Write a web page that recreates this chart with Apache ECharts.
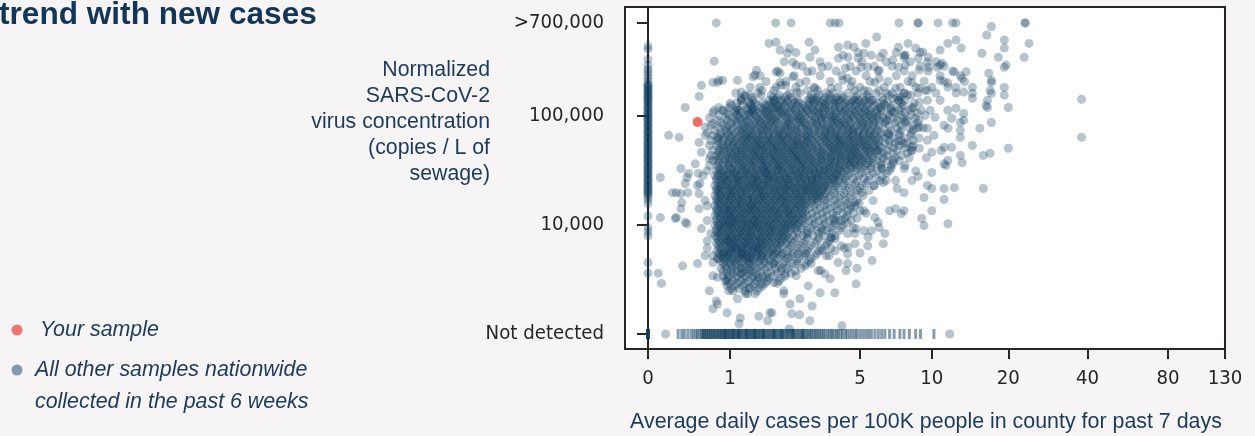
<!DOCTYPE html>
<html><head><meta charset="utf-8">
<script src="https://cdn.jsdelivr.net/npm/echarts@6/dist/echarts.min.js"></script>
<style>html,body{margin:0;padding:0;background:#f7f4f5;}#chart{width:1255px;height:436px;}</style>
</head><body><div id="chart"></div>
<script>
// ---- axis ticks ----
const xTickValues = [0, 1, 5, 10, 20, 40, 80, 130];           // avg daily cases per 100K
const yTickValuesK = [1, 10, 100, 700];                       // thousand copies / L
const yTickLabels = ['Not detected', '10,000', '100,000', '>700,000'];
const NOT_DETECTED_K = 1;   // "Not detected" row
const CAP_K = 700;          // ">700,000" row

// ---- your sample: [cases, thousand copies/L] ----
const yourSample = [0.52, 87];

// ---- samples from counties with 0 cases (thousand copies/L) ----
const zeroCaseConcentrations = [430,403,327,288,264,250,233,218,205,
 192,185,177,169,163,156,149,143,137,132,126,121,116,111,107,102,98,94,90,86,83,79,76,73,70,67,64,61.5,59,56.5,54,52,49.7,47.7,45.7,43.9,42,40.3,38.6,37,35.5,34,32.6,31.3,30,28.8,27.6,26.4,25.3,24.3,23.3,22.3,21.4,20.5,19.7,18.8,18.1,
 188,173,159,146,134,118,104,92,81,71,62.8,55.3,48.8,43,38,33.3,29.4,25.9,22.8,20.1,
 17,15.6,12,9.4,8.6,7.9,4.5,3.6];

// ---- samples above 700,000 (cases) ----
const cappedCases = [0.78,1.94,2.35,3.66,3.86,4.03,7.34,8.8,8.8,10.6,12.1,12.5,23.2,23.2];

// ---- samples with virus not detected (cases) ----
const notDetectedCases = [0,0,0,0,0,0,0,0,
 0.29,0.33,0.36,0.4,0.44,0.47,0.5,0.52,0.55,0.57,0.59,
 0.6,0.61,0.63,0.64,0.66,0.67,0.69,0.7,0.72,0.73,0.75,0.76,0.78,0.8,0.81,0.83,0.85,0.86,0.88,0.9,0.91,0.92,0.93,0.95,0.97,0.98,1.0,1.02,1.04,1.05,1.06,1.08,1.1,1.12,1.14,1.15,1.16,1.18,1.2,1.22,1.25,1.27,1.29,1.3,1.31,1.34,1.36,1.38,1.41,1.43,1.45,1.46,1.48,1.5,1.53,1.55,1.58,1.6,1.63,1.65,1.66,1.68,1.71,1.74,1.77,1.8,1.83,1.86,1.89,1.9,1.92,1.95,1.98,2.02,2.05,2.08,2.1,2.12,2.15,2.19,2.23,2.26,2.3,2.34,2.38,2.4,2.42,2.46,2.5,2.55,2.59,2.64,2.68,2.7,2.73,2.78,2.83,2.88,2.93,2.98,3.04,3.1,3.15,3.21,3.27,3.33,3.4,3.46,
 3.55,3.62,3.7,3.76,3.85,3.93,4.0,4.1,4.18,4.3,4.38,4.5,4.62,4.75,4.85,5.0,5.15,5.3,5.45,5.6,5.8,6.0,6.2,6.4,
 6.7,7.0,7.4,7.7,8.1,8.6,9.0,10.2];

// ---- main cloud read row by row: [thousand copies/L, [cases ...]] ----
const upperRows = [
 [375, [2.49,4.9,7.14,8.97]],
 [340, [2.93,4.42,6.11,7.71,9.67]],
 [309, [2.16,3.28,5.1,6.48,8.16,10.4]],
 [281, [2.68,3.58,4.52,5.76,6.87,8.97,11.2]],
 [254, [2,3,3.9,4.8,5.99,7.71,9.67,12.1]],
 [230, [1.58,2.44,3.28,4.15,5.31,7.14,8.32,10.8,13]],
 [204, [1.71,2.21,2.8,3.66,4.61,5.53,6.6,8.01,9.31,11.2,13.5]],
 [181, [1.37,1.95,2.49,3.07,3.98,5,6.35,7.42,8.64,10,11.6,14.5]],
 [160, [1.1,1.53,2.32,2.61,3.5,4.42,5.87,6.87,7.71,8.8,10.4,12.5]]
];
const denseRowsA = [
 [153, [1.27,1.6,1.83,2.03,2.24,2.97,3.24,3.62,4.11,4.85,5.37,6.67,8.24]],
 [145, [1.41,1.88,1.98,2.18,2.35,3.03,3.17,3.47,3.7,3.94,4.2,4.75,5.16,5.48,7.21]],
 [137, [1.2,1.43,1.78,1.93,2.08,2.24,2.41,2.84,3.03,3.17,3.39,3.62,3.86,4.11,4.38,4.66,4.95,5.26,5.59,6.29,7.35,7.78]],
 [130.5, [1.12,1.35,1.47,1.64,1.83,1.9,2.13,2.24,2.47,2.58,2.9,3.1,3.32,3.47,3.78,3.94,4.29,4.56,4.85,5.16,5.48,5.93,6.54,7.49]],
 [123.5, [1.02,1.23,1.39,1.51,1.69,1.78,1.98,2.03,2.18,2.35,2.52,2.71,2.9,3.03,3.24,3.47,3.62,3.86,4.2,4.47,4.75,5.05,5.37,5.81,6.41,6.93,7.63]],
 [117, [.98,1.12,1.31,1.43,1.6,1.69,1.83,1.98,2.08,2.29,2.41,2.65,2.77,2.97,3.24,3.39,3.54,3.86,4.03,4.29,4.56,4.95,5.16,5.59,6.05,6.8,7.49,8.4]],
 [111, [.89,1.09,1.16,1.31,1.39,1.47,1.64,1.74,1.88,2.03,2.13,2.35,2.47,2.65,2.84,3.03,3.17,3.47,3.62,3.86,4.11,4.29,4.66,4.85,5.26,5.48,5.93,6.17,6.8,7.35,8.08,9.05]],
 [105.5, [.73,.95,1.09,1.2,1.35,1.43,1.56,1.69,1.78,1.93,2.08,2.18,2.29,2.52,2.71,2.9,3.1,3.24,3.39,3.7,3.94,4.2,4.47,4.75,5.05,5.26,5.59,5.93,6.54,7.07,7.78,8.72]],
 [100, [.82,.98,1.12,1.27,1.35,1.47,1.6,1.74,1.83,1.98,2.13,2.24,2.47,2.58,2.77,2.97,3.24,3.39,3.62,3.78,4.11,4.38,4.56,4.85,5.16,5.48,5.7,6.05,6.67,7.49,8.24,9.4]],
 [94.8, [.68,.92,1.05,1.16,1.23,1.39,1.51,1.64,1.78,1.88,2.03,2.24,2.35,2.52,2.65,2.84,3.1,3.32,3.47,3.7,3.86,4.03,4.38,4.66,4.95,5.26,5.59,5.93,6.29,6.93,7.63,8.56]],
 [90, [.79,.95,1.09,1.2,1.31,1.47,1.56,1.69,1.83,1.93,2.08,2.29,2.41,2.58,2.71,2.97,3.1,3.32,3.54,3.78,3.94,4.2,4.47,4.75,5.05,5.37,5.7,6.05,6.54,7.21,7.93,8.88]],
 [85.3, [.85,1.02,1.12,1.27,1.35,1.51,1.6,1.74,1.88,1.98,2.18,2.29,2.52,2.65,2.77,3.03,3.17,3.39,3.7,3.86,4.11,4.29,4.56,4.95,5.16,5.48,5.81,6.41,7.07,7.78,8.72]],
 [81, [.7,.89,.98,1.12,1.23,1.35,1.43,1.56,1.69,1.78,1.93,2.13,2.24,2.35,2.58,2.77,2.9,3.17,3.32,3.54,3.78,4.03,4.2,4.47,4.85,5.05,5.37,5.7,6.05,6.67,7.49,8.4]],
 [76.7, [.82,.95,1.05,1.2,1.27,1.39,1.51,1.64,1.74,1.88,2.03,2.18,2.35,2.47,2.65,2.84,3.03,3.24,3.47,3.62,3.86,4.11,4.38,4.56,4.75,5.16,5.37,5.81,6.29,7.21,8.08,9.22]],
 [72.8, [.76,.92,1.02,1.16,1.23,1.35,1.47,1.6,1.69,1.83,1.98,2.08,2.24,2.41,2.52,2.77,2.9,3.1,3.32,3.54,3.7,3.94,4.2,4.47,4.66,4.95,5.26,5.59,5.93,6.8,7.49,8.4]],
 [69, [.65,.85,.95,1.09,1.2,1.31,1.39,1.51,1.64,1.78,1.88,2.03,2.18,2.29,2.52,2.65,2.84,3.03,3.24,3.47,3.7,3.86,4.11,4.38,4.66,4.85,5.16,5.48,5.81,6.17,6.67,7.35,8.24]]
];
const denseRowsB = [
 [65.5, [.73,.85,.98,1.05,1.16,1.27,1.35,1.43,1.56,1.64,1.78,1.93,2.03,2.13,2.29,2.41,2.58,2.77,2.9,3.1,3.32,3.47,3.62,3.86,4.03,4.29,4.47,4.66,4.95,5.16,5.48,5.7,6.17,6.67,7.35,8.24]],
 [62.1, [.82,.92,1.02,1.12,1.23,1.31,1.39,1.51,1.6,1.74,1.83,1.98,2.08,2.24,2.35,2.52,2.65,2.84,2.97,3.17,3.39,3.54,3.78,3.94,4.11,4.38,4.56,4.85,5.05,5.37,5.59,5.93,6.41,6.93,7.78,8.88]],
 [58.9, [.7,.79,.89,.98,1.09,1.2,1.27,1.39,1.47,1.56,1.69,1.78,1.88,2.03,2.13,2.24,2.41,2.52,2.71,2.84,3.03,3.24,3.47,3.62,3.86,4.03,4.2,4.47,4.66,4.95,5.16,5.48,5.81,6.05,6.67,7.49,8.4]],
 [55.9, [.82,.95,1.05,1.12,1.23,1.31,1.43,1.51,1.6,1.74,1.83,1.93,2.08,2.18,2.35,2.47,2.58,2.77,2.9,3.1,3.32,3.54,3.7,3.94,4.11,4.29,4.56,4.75,5.05,5.26,5.59,5.93,6.41,7.07,7.93]],
 [53, [.68,.79,.89,.98,1.05,1.16,1.27,1.35,1.47,1.56,1.64,1.74,1.88,1.98,2.13,2.24,2.41,2.52,2.65,2.77,2.97,3.17,3.39,3.62,3.78,4.03,4.2,4.38,4.66,4.85,5.16,5.37,5.7,6.05,6.67,7.35,8.4]],
 [50.3, [.85,.92,1.02,1.12,1.2,1.31,1.39,1.51,1.6,1.69,1.83,1.93,2.03,2.18,2.29,2.41,2.58,2.71,2.9,3.03,3.24,3.47,3.7,3.86,4.03,4.29,4.47,4.75,4.95,5.26,5.48,5.81,6.17,6.93,7.78]],
 [47.7, [.73,.82,.89,.98,1.09,1.16,1.23,1.35,1.43,1.51,1.64,1.74,1.88,1.98,2.08,2.24,2.35,2.47,2.65,2.77,2.97,3.17,3.32,3.54,3.78,3.94,4.11,4.38,4.56,4.75,5.05,5.37,5.59,5.93,6.54,7.21,8.24]],
 [45.2, [.82,.95,1.02,1.09,1.2,1.27,1.39,1.47,1.56,1.69,1.78,1.88,2.03,2.13,2.29,2.41,2.52,2.71,2.84,3.03,3.24,3.39,3.62,3.78,4.03,4.2,4.47,4.66,4.85,5.16,5.48,5.81,6.29,6.93,7.93]],
 [42.9, [.7,.79,.85,.95,1.05,1.12,1.23,1.31,1.43,1.51,1.6,1.69,1.83,1.93,2.08,2.18,2.35,2.47,2.58,2.77,2.9,3.1,3.32,3.47,3.7,3.86,4.11,4.29,4.56,4.75,4.95,5.26,5.59,6.05,6.54,7.49]],
 [40.7, [.82,.92,.98,1.09,1.16,1.27,1.35,1.47,1.56,1.64,1.78,1.88,1.98,2.13,2.24,2.41,2.52,2.65,2.84,2.97,3.17,3.32,3.54,3.7,3.94,4.11,4.38,4.56,4.85,5.05,5.37,5.7,6.29,7.07,8.08]],
 [38.6, [.73,.79,.92,1.02,1.12,1.2,1.31,1.39,1.47,1.6,1.69,1.83,1.93,2.03,2.18,2.29,2.47,2.58,2.71,2.9,3.03,3.24,3.39,3.62,3.86,4.03,4.29,4.47,4.66,4.95,5.16,5.48,5.93,6.54,7.35]],
 [36.6, [.82,.89,.98,1.05,1.16,1.23,1.35,1.43,1.56,1.64,1.74,1.88,1.98,2.08,2.24,2.35,2.52,2.65,2.77,2.97,3.1,3.32,3.54,3.7,3.86,4.11,4.38,4.56,4.75,5.05,5.37,5.7,6.17,6.93]],
 [34.7, [.68,.79,.89,.98,1.09,1.2,1.27,1.39,1.47,1.6,1.69,1.78,1.93,2.03,2.13,2.29,2.41,2.58,2.71,2.84,3.03,3.24,3.39,3.62,3.78,4.03,4.2,4.47,4.75,4.95,5.26,5.59,6.17,6.8,7.78]],
 [32.9, [.82,.95,1.02,1.12,1.23,1.31,1.43,1.51,1.64,1.74,1.83,1.98,2.08,2.18,2.35,2.47,2.65,2.77,2.97,3.1,3.24,3.47,3.62,3.86,4.03,4.29,4.56,4.85,5.16,5.59,6.17,6.8]]
];
const denseRowsC = [
 [31.2, [.78,.85,.9,1,1.07,1.14,1.23,1.29,1.39,1.51,1.6,1.67,1.78,1.93,2,2.1,2.27,2.41,2.49,2.65,2.8,2.9,3.07,3.28,3.43,3.54,3.74,3.98,4.15,4.38,4.75,5.31,5.93,6.67]],
 [29.6, [.82,.87,.97,1.05,1.1,1.2,1.31,1.37,1.45,1.58,1.69,1.74,1.85,1.98,2.13,2.21,2.32,2.52,2.61,2.74,2.93,3.1,3.21,3.39,3.62,3.82,3.94,4.2,4.56,5.05,5.7]],
 [28.1, [.76,.81,.9,.95,1.02,1.12,1.18,1.27,1.35,1.47,1.53,1.64,1.76,1.83,1.95,2.05,2.18,2.35,2.44,2.58,2.71,2.87,3,3.17,3.35,3.5,3.7,3.9,4.07,4.42,4.95,5.48,6.23]],
 [26.6, [.79,.89,.93,1.03,1.09,1.16,1.25,1.33,1.43,1.49,1.62,1.71,1.8,1.9,2.03,2.16,2.24,2.38,2.55,2.68,2.77,2.97,3.14,3.24,3.47,3.66,3.78,4.03,4.29,4.66,5.21,5.87]],
 [25.3, [.78,.84,.92,.98,1.07,1.14,1.21,1.31,1.41,1.51,1.56,1.69,1.78,1.88,2,2.08,2.24,2.32,2.47,2.61,2.8,2.93,3.03,3.21,3.39,3.58,3.82,3.98,4.33,4.85,5.42,6.11]],
 [24, [.81,.87,.95,1.05,1.12,1.18,1.29,1.37,1.45,1.53,1.64,1.74,1.85,1.95,2.1,2.18,2.29,2.44,2.58,2.68,2.84,3,3.14,3.32,3.5,3.7,3.9,4.24,4.75,5.31]],
 [22.7, [.76,.85,.9,.97,1.03,1.14,1.23,1.33,1.39,1.47,1.6,1.67,1.76,1.93,2.03,2.13,2.27,2.35,2.52,2.71,2.8,2.97,3.1,3.28,3.43,3.62,3.86,4.2,4.61,5.1,5.76]],
 [21.6, [.79,.84,.93,1,1.09,1.16,1.25,1.31,1.43,1.51,1.58,1.71,1.8,1.88,2,2.16,2.24,2.41,2.49,2.61,2.77,2.9,3.07,3.21,3.39,3.58,3.98,4.47,5]],
 [20.5, [.78,.82,.89,.98,1.05,1.1,1.2,1.27,1.37,1.49,1.56,1.64,1.78,1.9,1.98,2.08,2.21,2.32,2.47,2.65,2.74,2.87,3.03,3.17,3.35,3.54,3.86,4.33,4.85,5.48]],
 [19.4, [.81,.85,.95,1.02,1.07,1.18,1.23,1.35,1.41,1.53,1.62,1.69,1.83,1.93,2.05,2.16,2.29,2.44,2.52,2.68,2.84,2.97,3.14,3.28,3.47,3.82,4.24,4.75]],
 [18.4, [.76,.84,.92,.97,1.03,1.12,1.21,1.29,1.39,1.47,1.6,1.67,1.76,1.85,1.98,2.13,2.21,2.38,2.49,2.61,2.77,2.93,3.07,3.24,3.39,3.7,4.11,4.56,5.16]],
 [17.5, [.79,.87,.93,1.02,1.09,1.16,1.25,1.33,1.43,1.53,1.58,1.71,1.8,1.93,2.03,2.1,2.27,2.35,2.55,2.65,2.8,3,3.17,3.32,3.62,4.03,4.47]],
 [16.6, [.78,.82,.9,.98,1.05,1.14,1.2,1.31,1.37,1.45,1.56,1.64,1.74,1.88,1.95,2.08,2.18,2.32,2.44,2.58,2.71,2.87,3.03,3.21,3.47,3.86,4.29,4.85]]
];
const denseRowsD = [
 [15.7, [.81,.85,.95,1,1.1,1.18,1.23,1.35,1.41,1.51,1.62,1.69,1.83,1.9,2.05,2.16,2.24,2.41,2.52,2.68,2.8,2.97,3.17,3.54,3.94,4.38,4.95]],
 [14.9, [.76,.84,.9,.97,1.05,1.12,1.21,1.29,1.39,1.47,1.53,1.67,1.76,1.85,1.98,2.1,2.21,2.35,2.49,2.61,2.77,3.07,3.43,3.82,4.2,4.75]],
 [14.1, [.79,.89,.93,1.02,1.09,1.16,1.27,1.33,1.43,1.49,1.6,1.71,1.8,1.93,2.03,2.16,2.29,2.44,2.55,2.71,2.9,3.28,3.66,4.11,4.56]],
 [13.4, [.78,.82,.92,.98,1.03,1.14,1.2,1.31,1.37,1.45,1.58,1.64,1.78,1.88,1.95,2.08,2.24,2.32,2.47,2.65,2.8,3.14,3.5,3.94,4.42,5]],
 [12.7, [.81,.87,.95,1,1.09,1.18,1.25,1.35,1.43,1.53,1.62,1.74,1.83,1.98,2.05,2.18,2.27,2.41,2.58,2.71,3,3.35,3.78,4.2,4.66]],
 [12.1, [.76,.84,.9,.98,1.05,1.1,1.21,1.27,1.39,1.49,1.56,1.69,1.76,1.9,2,2.13,2.29,2.38,2.52,2.68,2.84,3.17,3.54,3.9,4.38]],
 [11.4, [.79,.85,.93,1.02,1.07,1.16,1.23,1.33,1.41,1.51,1.6,1.71,1.85,1.93,2.05,2.21,2.32,2.47,2.58,2.74,3.03,3.39,3.78,4.29,4.85]],
 [10.9, [.78,.89,.95,1,1.09,1.14,1.25,1.31,1.43,1.47,1.58,1.67,1.78,1.88,2,2.1,2.24,2.38,2.49,2.65,2.9,3.24,3.62,4.03,4.56]],
 [10.3, [.81,.85,.92,.98,1.05,1.12,1.2,1.29,1.37,1.45,1.53,1.64,1.74,1.83,1.95,2.08,2.18,2.29,2.44,2.55,2.77,3.1,3.47,3.86,4.38]],
 [9.8, [.76,.82,.9,.97,1.03,1.1,1.21,1.27,1.35,1.43,1.51,1.6,1.71,1.8,1.9,2.03,2.16,2.27,2.38,2.52,2.71,3.03,3.39,3.78,4.2]],
 [9.3, [.79,.87,.93,1.02,1.07,1.16,1.23,1.31,1.41,1.49,1.56,1.67,1.78,1.88,1.98,2.1,2.21,2.35,2.47,2.65,2.97,3.32,3.7,4.11,4.66]],
 [8.8, [.78,.84,.89,.98,1.05,1.14,1.2,1.29,1.37,1.45,1.58,1.64,1.76,1.85,1.95,2.08,2.18,2.32,2.52,2.84,3.17,3.54,4.03]],
 [8.35, [.81,.85,.95,1,1.09,1.16,1.25,1.33,1.39,1.51,1.6,1.69,1.8,1.9,2.03,2.13,2.27,2.55,2.87,3.24,3.7]]
];
const denseRowsE = [
 [7.9, [.76,.82,.92,.97,1.03,1.12,1.2,1.27,1.37,1.43,1.53,1.64,1.74,1.83,1.98,2.08,2.21,2.41,2.71,3.03,3.39,3.86]],
 [7.5, [.79,.87,.93,1.02,1.09,1.16,1.23,1.33,1.41,1.49,1.58,1.69,1.78,1.9,2.03,2.16,2.29,2.52,2.84,3.24,3.7]],
 [7.1, [.82,.9,.98,1.05,1.1,1.21,1.29,1.35,1.47,1.56,1.62,1.74,1.85,1.98,2.1,2.24,2.47,2.77,3.17,3.62]],
 [6.75, [.78,.84,.93,1,1.07,1.14,1.25,1.31,1.39,1.51,1.6,1.67,1.8,1.93,2.05,2.21,2.41,2.71,3.1,3.54]],
 [6.4, [.81,.89,.95,1.03,1.09,1.18,1.23,1.35,1.43,1.49,1.62,1.71,1.83,1.98,2.1,2.35,2.65,2.97,3.47,4.11]],
 [6.07, [.84,.97,1.02,1.12,1.2,1.27,1.33,1.45,1.53,1.64,1.76,1.88,2.03,2.29,2.58,2.9,3.32]],
 [5.76, [.79,.85,.92,1,1.05,1.14,1.21,1.31,1.39,1.47,1.58,1.69,1.83,1.98,2.24,2.52,2.84,3.24,3.86]],
 [5.46, [.82,.9,.97,1.02,1.1,1.2,1.25,1.35,1.43,1.53,1.64,1.78,1.93,2.13,2.41,2.77,3.17]],
 [5.18, [.85,.93,.98,1.07,1.16,1.23,1.31,1.41,1.51,1.62,1.74,1.88,2.08,2.35,2.71,3.1,3.62]],
 [4.91, [.81,.89,.95,1.03,1.12,1.2,1.29,1.37,1.49,1.6,1.74,1.98,2.24,2.58,2.97]],
 [4.66, [.84,.92,1,1.07,1.14,1.25,1.33,1.43,1.56,1.67,1.8,1.93,2.18,2.52,2.9]],
 [4.42, [.89,.98,1.09,1.2,1.35,1.51,1.69,1.88,2.13,2.52,2.97]],
 [4.19, [.92,1.02,1.12,1.27,1.43,1.6,1.78,2.03,2.29,2.77]],
 [3.97, [.85,.95,1.05,1.2,1.35,1.51,1.69,1.93,2.24,2.65]],
 [3.77, [.89,1.02,1.12,1.27,1.43,1.6,1.83,2.08,2.47]],
 [3.58, [.95,1.05,1.2,1.35,1.51,1.74,1.98,2.35]],
 [3.39, [.89,.98,1.12,1.27,1.43,1.64,1.88,2.18]],
 [3.22, [.95,1.09,1.23,1.39,1.56,1.78,2.08]],
 [3.05, [.92,1.05,1.2,1.35,1.51,1.74,2.03]],
 [2.9, [.98,1.12,1.27,1.47,1.69,1.98]],
 [2.75, [.95,1.09,1.23,1.43,1.64]],
 [2.6, [1.02,1.16,1.35,1.56]],
 [2.47, [1.05,1.27,1.51]]
];

// ---- main cloud, scattered points: [cases, thousand copies/L] ----
const scatteredUpper = [[1.78,455],[1.95,467],[2.9,467],[5.9,520],[8.0,455],[11.6,455],[12.5,488],[16.5,543],[17.2,650],[19.3,488],[19.3,412],[24,455],[23,340],
 [2.05,395],[2.3,410],[2.25,370],[3.1,395],[4.0,420],[4.4,439],[4.7,420],[5.3,455],[5.2,370],[7.3,420],[7.8,355],[8.6,412],[9.2,380],[10.8,395],[13.1,412],[15.8,370],[18.3,340],[19.3,275],[19.6,288],[17.2,209],[16.8,243],[19.3,180],[19.3,153],[20,118],[17.2,159],
 [0.75,313],[2.4,306],[4.0,333],[4.2,355],[4.9,333],[5.6,355],[6.3,370],[6.9,320],[7.7,355],[8.8,333],[9.6,306],[10.8,288],[11,300],
 [1.5,259],[1.95,250],[2.05,243],[2.5,288],[2.85,250],[3.35,275],[4.3,270],[5.05,275],[5.4,275],[6.05,259],[6.05,218],[7.3,275],[7.8,288],[8.9,259],[9.7,275],[10.5,275],[12.3,250],[13.2,218],[13.7,250],[0.88,209],[0.8,200],[1.47,233],[1.43,225],
 [0.57,188],[0.73,200],[0.82,209],[1.13,209],[1.2,163],[1.2,143],[1.36,153],[1.57,180],[1.9,169],[2.05,200],[2.2,188],[2.4,225],[2.6,197],[2.85,169],[3.2,169],[3.7,177],[4.2,209],[4.4,218],[4.75,169],[5.2,169],[5.8,200],[6.05,169],[6.5,159],[7.1,177],[7.7,159],[8.3,200],[8.9,177],[9.6,169],[10.8,209],[11.6,197],[12.5,180],[13.4,163],[14.5,159],[17,169],[17.2,200],[0.54,149],
 [0.37,118],[0.75,111],[0.82,118],[1.13,111],[1.2,137],[1.36,129],[1.43,111],[1.9,137],[1.9,118],[2.55,137],[2.93,143],[4.0,137],[4.75,137],[5.7,137],[6.15,118],[6.9,143],[7.3,137],[7.95,153],[8.3,118],[8.9,132],[9.6,137],[10.8,137],[11.6,111],[12.5,116],[13.4,104],[16.4,123],[16.6,118],[16.6,137],[14.5,143]];
const scatteredRight = [[8.9,78],[9.6,76],[10.3,96],[11.2,81],[12,94],[13,86],[15.5,76],[17.2,86],[13,73],[11.6,76],[13.4,90],
 [13,62.8],[14.5,53],[16,43],[17,45],[20,50],[12,51],[11.2,51],[10,46],[8.9,50],[8.3,51],[7.7,55],[9.6,59],
 [8.6,31],[10,30],[11.2,36],[11.6,38.6],[13,43],[13.2,37],
 [6.3,24.3],[6.5,29.4],[7.1,25.3],[7.7,19.6],[8.3,25.3],[9.3,17.7],[9.6,22.8],[10,21.4],[11.2,21.4],[11.2,17],[12.3,21.8],[16,21.4],
 [4.75,15.9],[5.2,13.4],[5.8,11.6],[6.7,13.4],[7.1,14],[7.7,13.4],[7.5,12.6],[9.1,11.4],[10,13.4],[9.3,9.8],[11.6,10.2],
 [2.8,8.3],[3.37,8.8],[3.7,7.6],[4.4,8.3],[4.75,8.3],[5.2,8.8],[5.6,8.8],[6.05,9.4],[6.4,8.3],[3.85,10.9],
 [38,140],[38,63]];
const scatteredLeft = [[0.19,65.6],[0.3,62.8],[0.62,78],[0.73,84.5],[0.54,56.5],[0.57,46],[0.8,63],
 [0.49,36],[0.32,32.6],[0.41,29.4],[0.11,27],[0.39,27],[0.53,29.4],[0.65,31],
 [0.37,23.8],[0.27,19.6],[0.32,19.2],[0.52,22.8],[0.54,19.2],[0.62,16.6],[0.23,19.6],[0.4,19.6],[0.55,23.8],[0.33,15.9],
 [0.32,14],[0.27,11.6],[0.37,10.5],[0.54,14],[0.11,11.6],[0.65,10.9],[0.26,11.4],[0.39,10.2],[0.57,9.2],[0.65,7.1],
 [0.65,6.1],[0.73,5.2],[0.8,4.9],[0.88,5.4],[0.34,4.2],[0.52,4.4],[0.09,3.6],[0.12,2.9],[0.16,1]];
const scatteredLower = [[0.95,7.1],[1.09,6.1],[1.2,5.4],[1.36,5],[1.53,6.1],[1.6,5.2],[1.9,5.4],[2.1,5.4],[2.3,5],[2.55,5.4],[2.8,5.4],[3.37,5.8],[3.7,6.1],[4.25,6.1],[4.4,5.4],[4.75,6.7],[5.4,6.4],[6.3,6.7],
 [0.73,4.5],[0.8,3.3],[0.95,3.06],[1.2,4],[1.2,3.6],[1.36,4.4],[1.36,3.8],[1.53,3.3],[1.71,3.3],[1.9,4.4],[2.1,4],[2.2,3.55],[2.5,3.4],[2.8,4.4],[3.3,3.8],[3.45,3.55],[4.4,4.4],[4.85,4],[4.8,2.87],[2.4,4.4],[1.9,2.95],[1.6,2.87],
 [0.73,1.7],[0.8,1.88],[0.95,1.56],[0.98,2.48],[1.13,2.1],[1.28,2.33],[1.36,2.65],[1.47,2.33],[1.85,1.56],[2.15,2.33],[2.15,2.48],[2.37,1.53],[3.85,2.38],[1.32,2.33],
 [1.16,1.24],[1.75,1.32],[1.8,1.56],[2.93,1.32],[4.15,1.19],[2.3,1.11],[1.18,1.4],[1.55,1.45],[2.6,1.5],[11.8,1]];
// points just outside the dense core (the gradual edge of the cloud)
const edgeSamples = [[6.35,126],[6.93,107],[7.78,88],[8.72,76],[6.6,68],[7.28,58],[8.32,47.7],[9.5,41],[6.93,38.6],[7.71,32.6],[8.8,27.6],[6.48,25.3],[7.21,21.4],[10.2,65.6],[9.85,111],[10.9,47.7],[11.4,34.7],[6.48,90],[7.42,149],[8.48,129],[9.4,169],[5.99,47.7],[6.23,32.6],[5.76,22.8],
 [5.1,19.6],[5.7,16.6],[4.56,14.9],[5.31,12.7],[5.99,10.5],[4.15,10.9],[4.8,9.2],[5.42,7.7],[3.86,7.4],[4.42,6.2],[5,5.5],[3.5,5.2],[3.98,4.5],[3.21,3.8],[3.66,3.2],[2.87,2.75],[3.28,2.38],[2.61,2.1],[3,1.8],[2.32,1.88],[4.33,3.8],[5.64,4.7],
 [1.27,149],[1.62,169],[2.08,188],[2.52,163],[3.1,177],[3.78,159],[4.56,185],[5.42,167],[6.23,145],[1,129],[.87,111],
 [.62,65.6],[.68,40],[.59,28],[.65,14.9],[.7,8.3],[.62,5.2],[.73,3.4],[.68,2.48],[.78,2]];

// ---- scales: x = log2(cases + 1), y = log10(copies / L) ----
const tx = v => Math.log2(v + 1);
const ty = k => Math.log10(k * 1000);
const rowsToPairs = rows => rows.flatMap(([y, xs]) => xs.map(x => [x, y]));

const cloud = [].concat(
  rowsToPairs(upperRows), rowsToPairs(denseRowsA), rowsToPairs(denseRowsB), rowsToPairs(denseRowsC),
  rowsToPairs(denseRowsD), rowsToPairs(denseRowsE),
  scatteredUpper, scatteredRight, scatteredLeft, scatteredLower, edgeSamples,
  zeroCaseConcentrations.map(y => [0, y]),
  cappedCases.map(x => [x, CAP_K])
);

const NAVY = '#0c3b5e';
const TEXT = '#1b3b5d';
const SANS = '"Liberation Sans", Arial, Helvetica, sans-serif';
const TICKFONT = '"DejaVu Sans Condensed", "DejaVu Sans", sans-serif';

const xTickPos = xTickValues.map(tx);
const yTickPos = yTickValuesK.map(ty);
const near = (arr, v) => arr.findIndex(p => Math.abs(p - v) < 1e-6);

const chart = echarts.init(document.getElementById('chart'), null, {renderer: 'canvas'});
chart.setOption({
  backgroundColor: '#f7f4f5',
  animation: false,
  grid: {left: 625, top: 7, width: 600, height: 342, show: true, backgroundColor: '#ffffff', borderColor: '#262626', borderWidth: 2},
  xAxis: {
    type: 'value', min: -0.2804, max: tx(130),
    splitLine: {show: false},
    axisLine: {show: true, lineStyle: {color: '#262626', width: 2}},
    axisTick: {show: true, customValues: xTickPos, length: 10, lineStyle: {color: '#262626', width: 2}},
    axisLabel: {customValues: xTickPos, margin: 20, fontFamily: TICKFONT, fontSize: 20.2, color: '#262626',
      formatter: v => { const i = near(xTickPos, v); return i >= 0 ? String(xTickValues[i]) : ''; }}
  },
  yAxis: {
    type: 'value', min: 2.8624, max: 5.9908,
    splitLine: {show: false},
    axisLine: {show: true, lineStyle: {color: '#262626', width: 2}},
    axisTick: {show: true, customValues: yTickPos, length: 11, lineStyle: {color: '#262626', width: 2}},
    axisLabel: {customValues: yTickPos, margin: 21, fontFamily: TICKFONT, fontSize: 20.2, color: '#262626',
      formatter: v => { const i = near(yTickPos, v); return i >= 0 ? yTickLabels[i] : ''; }}
  },
  series: [
    {type: 'scatter', name: 'All other samples', silent: true, progressive: 0,
     symbol: 'circle', symbolSize: 9, itemStyle: {color: NAVY, opacity: 0.3},
     data: cloud.map(([x, y]) => [tx(x), ty(y)])},
    {type: 'scatter', name: 'Not detected', silent: true, progressive: 0,
     symbol: 'rect', symbolSize: [3, 10], itemStyle: {color: NAVY, opacity: 0.5},
     data: notDetectedCases.map(x => [tx(x), ty(NOT_DETECTED_K)])},
    {type: 'scatter', name: 'Your sample', silent: true, z: 5,
     symbol: 'circle', symbolSize: 10, itemStyle: {color: '#f26b6b', opacity: 1},
     data: [[tx(yourSample[0]), ty(yourSample[1])]]}
  ],
  graphic: [
    {type: 'text', x: -1, y: 15, style: {text: 'trend with new cases', font: 'bold 31.6px ' + SANS, fill: '#12355a', align: 'left', textAlign: 'left', verticalAlign: 'middle', textVerticalAlign: 'middle'}},
    {type: 'text', x: 490, y: 57, style: {text: 'Normalized\nSARS-CoV-2\nvirus concentration\n(copies / L of\nsewage)', font: '21.3px ' + SANS, lineHeight: 26, fill: TEXT, align: 'right', textAlign: 'right', verticalAlign: 'top', textVerticalAlign: 'top'}},
    {type: 'text', x: 926, y: 422, style: {text: 'Average daily cases per 100K people in county for past 7 days', font: '21.4px ' + SANS, fill: TEXT, align: 'center', textAlign: 'center', verticalAlign: 'middle', textVerticalAlign: 'middle'}},
    {type: 'circle', shape: {cx: 17, cy: 330, r: 5.5}, style: {fill: '#f47474'}},
    {type: 'text', x: 40, y: 330, style: {text: 'Your sample', font: 'italic 21.4px ' + SANS, fill: TEXT, align: 'left', textAlign: 'left', verticalAlign: 'middle', textVerticalAlign: 'middle'}},
    {type: 'circle', shape: {cx: 17, cy: 370, r: 5.5}, style: {fill: '#8299ab'}},
    {type: 'text', x: 35, y: 354, style: {text: 'All other samples nationwide\ncollected in the past 6 weeks', font: 'italic 21.4px ' + SANS, lineHeight: 32, fill: TEXT, align: 'left', textAlign: 'left', verticalAlign: 'top', textVerticalAlign: 'top'}}
  ]
});
</script></body></html>
